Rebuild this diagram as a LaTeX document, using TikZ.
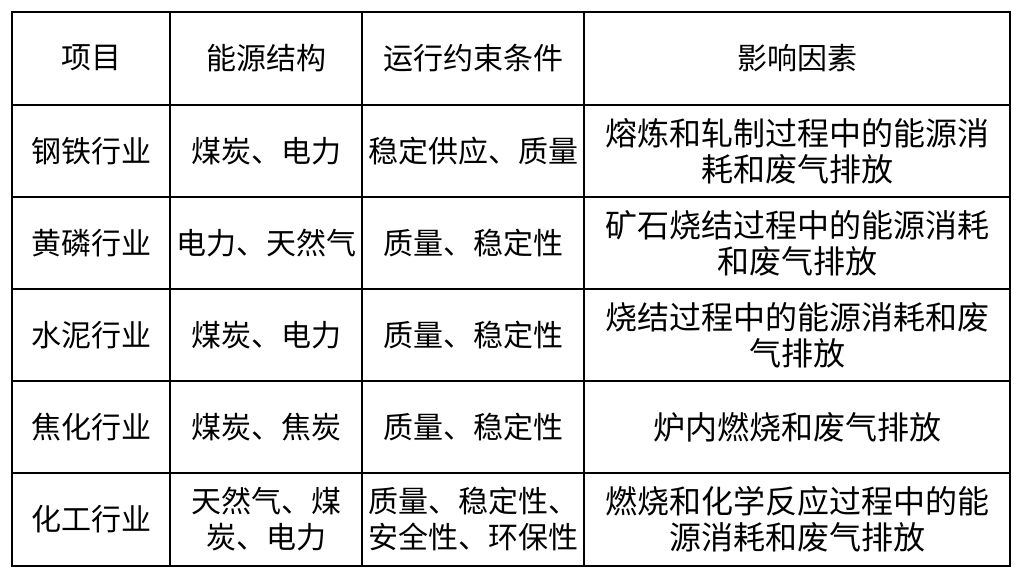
\documentclass[tikz,border=0pt]{standalone}
\usepackage{fontspec}
\newfontfamily\cjk{Noto Sans CJK SC}
\begin{document}
\begin{tikzpicture}[x=1pt,y=-1pt,
  cell/.style={font=\cjk\fontsize{30}{36}\selectfont,align=center,inner sep=0pt},
  wcell/.style={cell,font=\cjk\fontsize{32}{36}\selectfont}]
\useasboundingbox (0,0) rectangle (1023,583);
\foreach \y in {105,197,289,381,473} \draw[line width=1.6pt] (12,\y) -- (1010,\y);
\foreach \x in {170,362,584} \draw[line width=1.6pt] (\x,12) -- (\x,566);
\draw[line width=2.8pt] (12,12) rectangle (1010,566);
\node[cell] (h1) at (91,58) {项目};
\node[cell] (h2) at (266,58) {能源结构};
\node[cell] (h3) at (473,58) {运行约束条件};
\node[cell] (h4) at (797,58) {影响因素};
\node[cell] (a1) at (91,151) {钢铁行业};
\node[cell] (a2) at (266,151) {煤炭、电力};
\node[cell] (a3) at (473,151) {稳定供应、质量};
\node[wcell] (a4) at (797,151) {熔炼和轧制过程中的能源消\\耗和废气排放};
\node[cell] (b1) at (91,243) {黄磷行业};
\node[cell] (b2) at (266,243) {电力、天然气};
\node[cell] (b3) at (473,243) {质量、稳定性};
\node[wcell] (b4) at (797,243) {矿石烧结过程中的能源消耗\\和废气排放};
\node[cell] (c1) at (91,335) {水泥行业};
\node[cell] (c2) at (266,335) {煤炭、电力};
\node[cell] (c3) at (473,335) {质量、稳定性};
\node[wcell] (c4) at (797,335) {烧结过程中的能源消耗和废\\气排放};
\node[cell] (d1) at (91,427) {焦化行业};
\node[cell] (d2) at (266,427) {煤炭、焦炭};
\node[cell] (d3) at (473,427) {质量、稳定性};
\node[wcell] (d4) at (797,427) {炉内燃烧和废气排放};
\node[cell] (e1) at (91,519) {化工行业};
\node[cell] (e2) at (266,519) {天然气、煤\\炭、电力};
\node[cell] (e3) at (473,519) {质量、稳定性、\\安全性、环保性};
\node[wcell] (e4) at (797,519) {燃烧和化学反应过程中的能\\源消耗和废气排放};
\end{tikzpicture}
\end{document}
